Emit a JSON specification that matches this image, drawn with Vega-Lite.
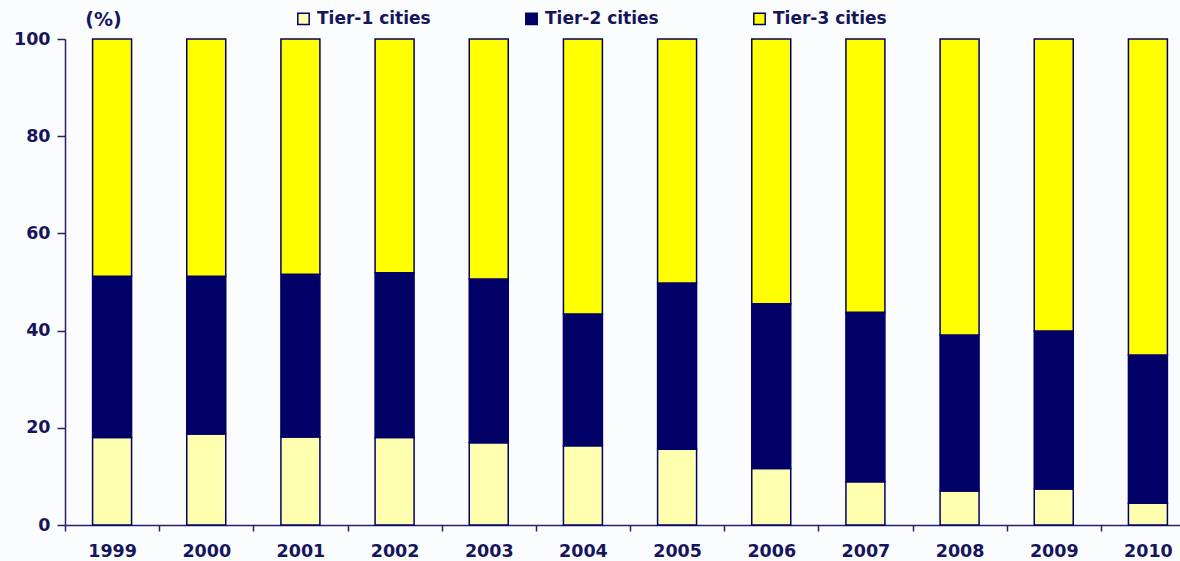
{
  "$schema": "https://vega.github.io/schema/vega-lite/v6.json",
  "autosize": {"type": "none"},
  "padding": {"left": 65, "top": 39, "right": 0, "bottom": 36},
  "width": 1115,
  "height": 486,
  "background": "#fbfcfe",
  "data": {
    "values": [
      {"year": "1999", "tier": "Tier-1 cities", "share": 18.0},
      {"year": "1999", "tier": "Tier-2 cities", "share": 33.2},
      {"year": "1999", "tier": "Tier-3 cities", "share": 48.8},
      {"year": "2000", "tier": "Tier-1 cities", "share": 18.7},
      {"year": "2000", "tier": "Tier-2 cities", "share": 32.5},
      {"year": "2000", "tier": "Tier-3 cities", "share": 48.8},
      {"year": "2001", "tier": "Tier-1 cities", "share": 18.1},
      {"year": "2001", "tier": "Tier-2 cities", "share": 33.5},
      {"year": "2001", "tier": "Tier-3 cities", "share": 48.4},
      {"year": "2002", "tier": "Tier-1 cities", "share": 18.0},
      {"year": "2002", "tier": "Tier-2 cities", "share": 33.9},
      {"year": "2002", "tier": "Tier-3 cities", "share": 48.1},
      {"year": "2003", "tier": "Tier-1 cities", "share": 16.9},
      {"year": "2003", "tier": "Tier-2 cities", "share": 33.7},
      {"year": "2003", "tier": "Tier-3 cities", "share": 49.4},
      {"year": "2004", "tier": "Tier-1 cities", "share": 16.3},
      {"year": "2004", "tier": "Tier-2 cities", "share": 27.1},
      {"year": "2004", "tier": "Tier-3 cities", "share": 56.6},
      {"year": "2005", "tier": "Tier-1 cities", "share": 15.6},
      {"year": "2005", "tier": "Tier-2 cities", "share": 34.2},
      {"year": "2005", "tier": "Tier-3 cities", "share": 50.2},
      {"year": "2006", "tier": "Tier-1 cities", "share": 11.6},
      {"year": "2006", "tier": "Tier-2 cities", "share": 33.9},
      {"year": "2006", "tier": "Tier-3 cities", "share": 54.5},
      {"year": "2007", "tier": "Tier-1 cities", "share": 8.9},
      {"year": "2007", "tier": "Tier-2 cities", "share": 34.9},
      {"year": "2007", "tier": "Tier-3 cities", "share": 56.2},
      {"year": "2008", "tier": "Tier-1 cities", "share": 7.0},
      {"year": "2008", "tier": "Tier-2 cities", "share": 32.1},
      {"year": "2008", "tier": "Tier-3 cities", "share": 60.9},
      {"year": "2009", "tier": "Tier-1 cities", "share": 7.4},
      {"year": "2009", "tier": "Tier-2 cities", "share": 32.5},
      {"year": "2009", "tier": "Tier-3 cities", "share": 60.1},
      {"year": "2010", "tier": "Tier-1 cities", "share": 4.5},
      {"year": "2010", "tier": "Tier-2 cities", "share": 30.5},
      {"year": "2010", "tier": "Tier-3 cities", "share": 65.0}
    ]
  },
  "mark": {"type": "bar", "stroke": "#000066", "strokeWidth": 1.5, "width": {"band": 0.414}},
  "encoding": {
    "x": {
      "field": "year",
      "type": "nominal",
      "scale": {"range": [0, 1130], "paddingInner": 0, "paddingOuter": 0},
      "axis": {
        "title": null,
        "labelAngle": 0,
        "tickBand": "extent",
        "tickSize": 6,
        "labelPadding": 11,
        "labelFontSize": 17.5,
        "labelFontWeight": "bold",
        "labelFont": "DejaVu Sans",
        "labelColor": "#15155c",
        "domainColor": "#22226e",
        "domainWidth": 1.5,
        "tickColor": "#22226e",
        "tickWidth": 1.5
      }
    },
    "y": {
      "field": "share",
      "type": "quantitative",
      "stack": "zero",
      "scale": {"domain": [0, 100], "nice": false},
      "axis": {
        "title": "(%)",
        "titleAngle": 0,
        "titleX": 38,
        "titleY": -20,
        "titleAlign": "center",
        "titleBaseline": "middle",
        "titleFontSize": 19,
        "titleFontWeight": "bold",
        "titleFont": "DejaVu Sans",
        "titleColor": "#15155c",
        "values": [0, 20, 40, 60, 80, 100],
        "grid": false,
        "tickSize": 8,
        "labelPadding": 7,
        "labelFontSize": 17.5,
        "labelFontWeight": "bold",
        "labelFont": "DejaVu Sans",
        "labelColor": "#15155c",
        "domainColor": "#22226e",
        "domainWidth": 1.5,
        "tickColor": "#22226e",
        "tickWidth": 1.5
      }
    },
    "color": {
      "field": "tier",
      "type": "nominal",
      "scale": {
        "domain": ["Tier-1 cities", "Tier-2 cities", "Tier-3 cities"],
        "range": ["#ffffb0", "#000066", "#ffff00"]
      },
      "legend": {
        "title": null,
        "orient": "none",
        "direction": "horizontal",
        "legendX": 230,
        "legendY": -29,
        "padding": 0,
        "columnPadding": 91,
        "symbolType": "square",
        "symbolSize": 130,
        "symbolStrokeColor": "#000066",
        "symbolStrokeWidth": 1.5,
        "symbolOpacity": 1,
        "labelOffset": 5,
        "labelFontSize": 17,
        "labelFontWeight": "bold",
        "labelFont": "DejaVu Sans",
        "labelColor": "#15155c"
      }
    },
    "order": {"field": "tier", "sort": "ascending"}
  },
  "config": {"view": {"stroke": null}}
}
